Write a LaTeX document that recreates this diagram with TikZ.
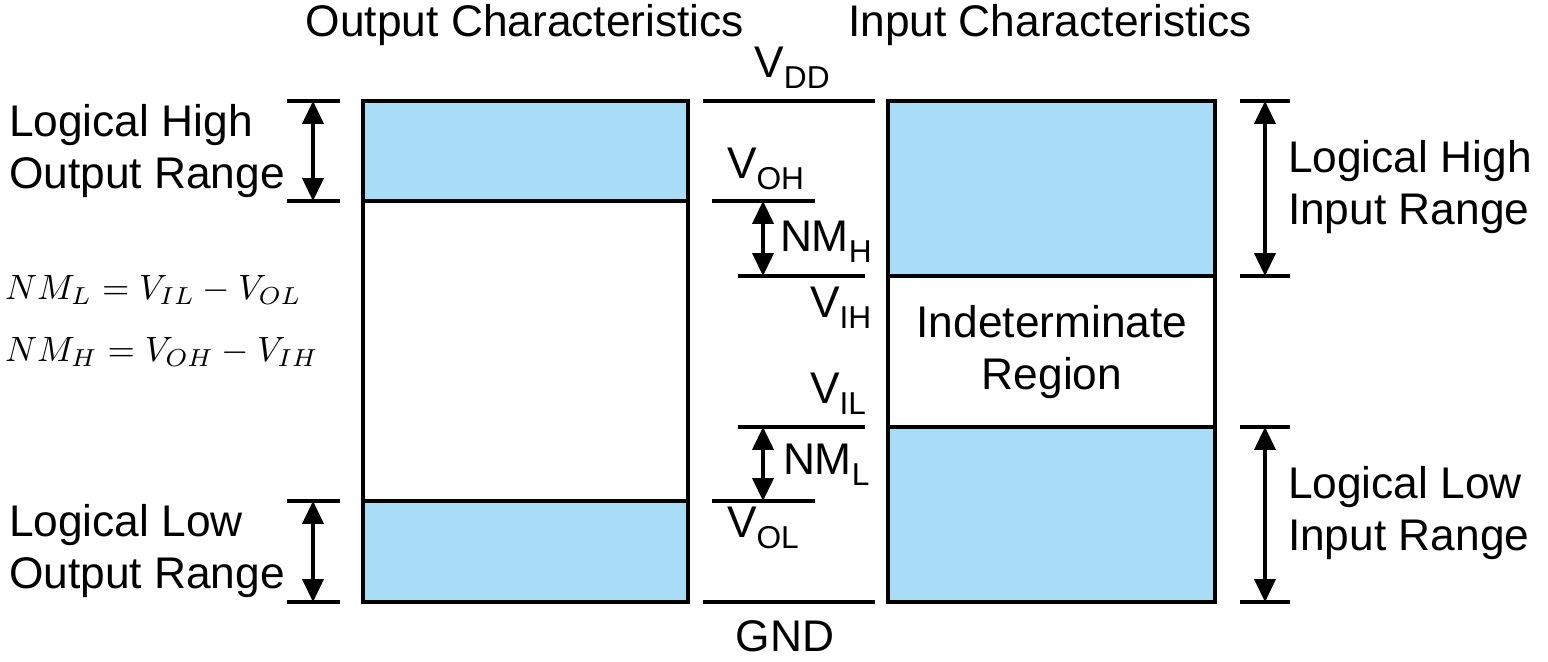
\documentclass[tikz,border=0pt]{standalone}
\usepackage{fontspec}
\setmainfont{Liberation Sans}
\usetikzlibrary{arrows.meta,positioning}
\definecolor{bandColor}{HTML}{A8DDF8}
\tikzset{
	band/.style={fill=bandColor},
	span/.style={{Triangle[width=6pt,length=6.5pt]}-{Triangle[width=6pt,length=6.5pt]},line width=0.9pt},
	lab/.style={inner sep=0,outer sep=0,font=\fontsize{12.6}{15}\selectfont},
	twoline/.style={lab,align=left},
	eqn/.style={inner sep=0,outer sep=0,font=\fontsize{10.4}{12}\selectfont}
}
\newcommand{\volt}[2]{#1\raisebox{-0.45ex}{\fontsize{9}{9}\selectfont #2}}

\begin{document}
\begin{tikzpicture}[x=0.01cm,y=-0.01cm,line width=1pt]
	\useasboundingbox (0,0) rectangle (1548,662);
	% output characteristics
	\fill[band] (363,101) rectangle (688,201);
	\fill[band] (363,501) rectangle (688,602);
	\draw (363,101) rectangle (688,602);
	\draw (363,201) -- (688,201);
	\draw (363,501) -- (688,501);
	% input characteristics
	\fill[band] (888,101) rectangle (1215,276);
	\fill[band] (888,427) rectangle (1215,602);
	\draw (888,101) rectangle (1215,602);
	\draw (888,276) -- (1215,276);
	\draw (888,427) -- (1215,427);
	% range ticks
	\foreach \y/\n in {101/oh1,201/oh2,501/ol1,602/ol2} {
		\draw (287,\y) -- (340,\y);
		\coordinate (\n) at (313,\y);
	}
	\foreach \y/\n in {101/ih1,276/ih2,427/il1,602/il2} {
		\draw (1240,\y) -- (1290,\y);
		\coordinate (\n) at (1265,\y);
	}
	% levels
	\draw (703,101) -- (875,101);
	\draw (712,201) -- (815,201);
	\draw (738,276) -- (865,276);
	\draw (738,427) -- (865,427);
	\draw (712,501) -- (815,501);
	\draw (703,602) -- (875,602);
	\coordinate (nmh1) at (763,201);
	\coordinate (nmh2) at (763,276);
	\coordinate (nml1) at (763,427);
	\coordinate (nml2) at (763,501);
	\draw[span] (oh1) -- (oh2);
	\draw[span] (ol1) -- (ol2);
	\draw[span] (ih1) -- (ih2);
	\draw[span] (il1) -- (il2);
	\draw[span] (nmh1) -- (nmh2);
	\draw[span] (nml1) -- (nml2);
	% texts
	\node[lab] (outT) at (525,25) {Output Characteristics};
	\node[lab] (inT) at (1050,25) {Input Characteristics};
	\node[twoline,anchor=west] (ohR) at (9,151) {Logical High\\Output Range};
	\node[twoline,anchor=west] (olR) at (9,551) {Logical Low\\Output Range};
	\node[twoline,anchor=west] (ihR) at (1288,187) {Logical High\\Input Range};
	\node[twoline,anchor=west] (ilR) at (1288,513) {Logical Low\\Input Range};
	\node[lab,align=center] (ind) at (1052,352) {Indeterminate\\Region};
	\node[lab] (vdd) at (792,68) {\volt{V}{DD}};
	\node[lab,anchor=west] (voh) at (727,169) {\volt{V}{OH}};
	\node[lab,anchor=west] (nmh) at (780,242) {\volt{NM}{H}};
	\node[lab,anchor=west] (vih) at (810,308) {\volt{V}{IH}};
	\node[lab,anchor=west] (vil) at (810,394) {\volt{V}{IL}};
	\node[lab,anchor=west] (nml) at (783,465) {\volt{NM}{L}};
	\node[lab,anchor=west] (vol) at (727,528) {\volt{V}{OL}};
	\node[lab] (gnd) at (785,636) {GND};
	\node[eqn,anchor=west] (eqL) at (5,290) {$NM_L = V_{IL} - V_{OL}$};
	\node[eqn,anchor=west] (eqH) at (5,352) {$NM_H = V_{OH} - V_{IH}$};
\end{tikzpicture}
\end{document}
